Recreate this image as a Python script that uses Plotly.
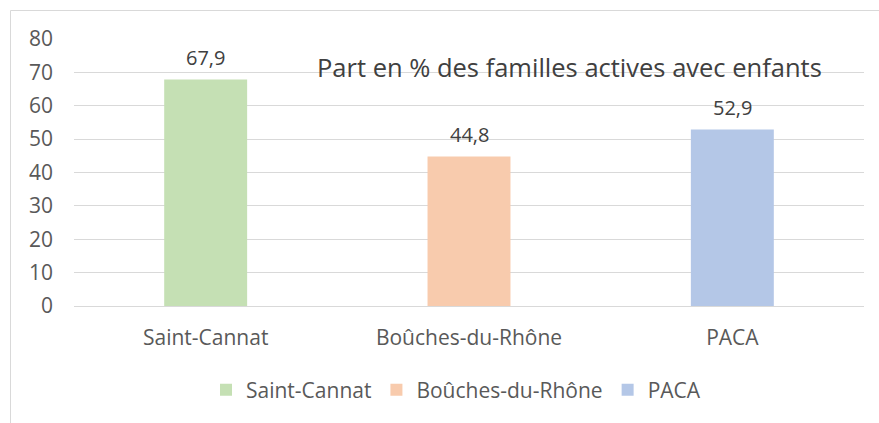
import plotly.graph_objects as go

categories = ["Saint-Cannat", "Boûches-du-Rhône", "PACA"]
values = [67.9, 44.8, 52.9]
colors = ["#c5e0b4", "#f8cbad", "#b4c7e7"]
y_ticks = [0, 10, 20, 30, 40, 50, 60, 70, 80]
chart_title = "Part en % des familles actives avec enfants"

FONT = "Open Sans"
W, H = 879, 423
L, R, T, B = 74, 15, 39, 117
pw, ph = W - L - R, H - T - B

def px_x(x):
    return (x - L) / pw

def px_y(y):
    return (H - B - y) / ph

fig = go.Figure()
for cat, val, col in zip(categories, values, colors):
    fig.add_trace(go.Bar(
        x=[cat], y=[val], name=cat, marker=dict(color=col, line=dict(width=0)),
        width=0.315, hoverinfo="skip",
    ))

annotations = []
for cat, val in zip(categories, values):
    annotations.append(dict(
        x=cat, y=val, xref="x", yref="y", text=f"{val:.1f}".replace(".", ","),
        showarrow=False, yanchor="bottom", yshift=6,
        font=dict(family=FONT, size=20, color="#404040"),
    ))
annotations.append(dict(
    x=px_x(569), y=px_y(67), xref="paper", yref="paper", text=chart_title,
    showarrow=False, xanchor="center", yanchor="middle",
    font=dict(family=FONT, size=25.5, color="#404040"),
))

fig.update_layout(
    width=W, height=H,
    margin=dict(l=L, r=R, t=T, b=B, pad=0),
    paper_bgcolor="white", plot_bgcolor="white",
    barmode="overlay",
    showlegend=True,
    legend=dict(
        orientation="h", x=px_x(456), xanchor="center", y=px_y(390), yanchor="middle",
        font=dict(family=FONT, size=21, color="#595959"),
        itemclick=False, itemdoubleclick=False,
    ),
    annotations=annotations,
    shapes=[dict(
        type="rect", xref="paper", yref="paper",
        x0=px_x(10.5), x1=px_x(900), y0=px_y(450), y1=px_y(10.5),
        line=dict(color="#d9d9d9", width=1), layer="below",
    )],
    xaxis=dict(
        type="category", categoryorder="array", categoryarray=categories,
        showgrid=False, showline=False, zeroline=False, ticks="",
        tickfont=dict(family=FONT, size=21, color="#595959"),
        ticklabelstandoff=17, fixedrange=True,
    ),
    yaxis=dict(
        range=[0, 80], tickvals=y_ticks, showgrid=True, gridcolor="#d9d9d9", gridwidth=1,
        zeroline=True, zerolinecolor="#d9d9d9", zerolinewidth=1,
        showline=False, ticks="",
        tickfont=dict(family=FONT, size=21, color="#595959"),
        ticklabelstandoff=20, fixedrange=True,
    ),
)

fig.write_html(
    "out.html",
    config={"displayModeBar": False},
    post_script="document.body.style.margin='0';document.body.style.overflow='hidden';",
)
